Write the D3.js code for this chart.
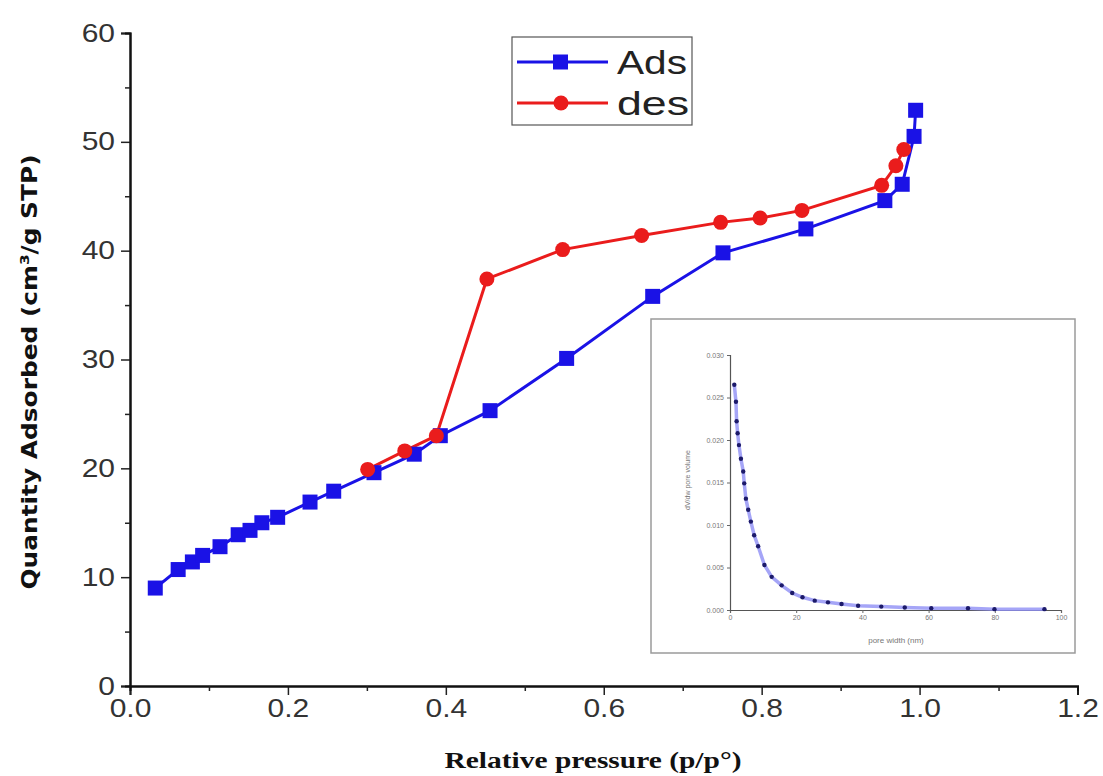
<!DOCTYPE html>
<html>
<head>
<meta charset="utf-8">
<script src="https://cdn.jsdelivr.net/npm/d3@7"></script>
<style>
  html, body { margin: 0; padding: 0; background: #fff; }
  svg { display: block; }
</style>
</head>
<body>
<svg id="chart" width="1103" height="776"></svg>
<script>
// Nitrogen isotherm: adsorption branch
const adsP = [0.032, 0.061, 0.079, 0.092, 0.114, 0.137, 0.152, 0.167, 0.187, 0.228, 0.258,
              0.309, 0.360, 0.393, 0.456, 0.553, 0.662, 0.751, 0.856, 0.956, 0.978, 0.993, 0.995];
const adsQ = [9.0, 10.7, 11.4, 12.0, 12.8, 13.9, 14.3, 15.0, 15.5, 16.9, 17.9,
              19.6, 21.3, 23.0, 25.3, 30.1, 35.8, 39.8, 42.0, 44.6, 46.1, 50.5, 52.9];
// Desorption branch
const desP = [0.301, 0.348, 0.388, 0.452, 0.548, 0.648, 0.748, 0.798, 0.851, 0.952, 0.970, 0.980];
const desQ = [19.9, 21.6, 23.0, 37.4, 40.1, 41.4, 42.6, 43.0, 43.7, 46.0, 47.8, 49.3];

const xTicks = [0.0, 0.2, 0.4, 0.6, 0.8, 1.0, 1.2];
const yTicks = [0, 10, 20, 30, 40, 50, 60];
const seriesNames = ["Ads", "des"];

// Pore size distribution (inset)
const poreW = [1.3, 1.8, 2.0, 2.3, 2.7, 3.3, 4.0, 4.3, 4.8, 5.5, 6.3, 7.3, 8.5, 10.4, 12.6,
               15.6, 18.8, 21.9, 25.6, 29.6, 33.7, 38.7, 45.7, 52.8, 60.8, 71.9, 79.9, 95.0];
const poreV = [0.0265, 0.0245, 0.0222, 0.0208, 0.0194, 0.0178, 0.0163, 0.0149, 0.0131, 0.0118,
               0.0104, 0.0088, 0.0075, 0.0053, 0.0039, 0.0029, 0.0020, 0.0015, 0.0011, 0.0009,
               0.0007, 0.0005, 0.0004, 0.0003, 0.0002, 0.0002, 0.0001, 0.0001];
const insetXTicks = [0, 20, 40, 60, 80, 100];
const insetYTicks = [0.000, 0.005, 0.010, 0.015, 0.020, 0.025, 0.030];

const BLUE = "#1a12e6";
const RED = "#ea1c1c";
const SANS = "Liberation Sans, Arial, sans-serif";

const svg = d3.select("#chart");

// widen glyphs a little so labels look like the plotting package's stretched font
function stretch(sel, factor) {
  sel.each(function () {
    const w = this.getComputedTextLength();
    d3.select(this).attr("textLength", w * factor).attr("lengthAdjust", "spacingAndGlyphs");
  });
}

// ---------- main plot ----------
const x = d3.scaleLinear().domain([0, 1.2]).range([130, 1077.5]);
const y = d3.scaleLinear().domain([0, 60]).range([686, 33]);

const gx = svg.append("g").attr("transform", "translate(0,686)")
  .call(d3.axisBottom(x).tickValues(xTicks).tickFormat(d3.format(".1f")).tickSize(9).tickPadding(3));
svg.append("g").attr("transform", "translate(0,686)")
  .call(d3.axisBottom(x).tickValues(d3.range(0.1, 1.2, 0.2)).tickFormat("").tickSize(5));
const gy = svg.append("g").attr("transform", "translate(130,0)")
  .call(d3.axisLeft(y).tickValues(yTicks).tickFormat(d3.format("d")).tickSize(9).tickPadding(6));
svg.append("g").attr("transform", "translate(130,0)")
  .call(d3.axisLeft(y).tickValues(d3.range(5, 60, 10)).tickFormat("").tickSize(5));

svg.selectAll(".domain").attr("stroke", "#111").attr("stroke-width", 2);
svg.selectAll(".tick line").attr("stroke", "#222").attr("stroke-width", 1.5);
gx.selectAll(".tick text").attr("font-family", SANS)
  .attr("font-size", 25).attr("fill", "#333").attr("dy", "0.75em").call(stretch, 1.2);
gy.selectAll(".tick text").attr("font-family", SANS)
  .attr("font-size", 25).attr("fill", "#333").call(stretch, 1.2);

// axis titles
svg.append("text").attr("x", 593).attr("y", 768).attr("text-anchor", "middle")
  .attr("font-family", "Liberation Serif, serif").attr("font-weight", "bold")
  .attr("font-size", 23).attr("fill", "#111")
  .attr("textLength", 297).attr("lengthAdjust", "spacingAndGlyphs")
  .text("Relative pressure (p/p°)");
const yt = svg.append("text").attr("transform", "translate(37,372) rotate(-90)")
  .attr("text-anchor", "middle").attr("font-family", "DejaVu Sans, sans-serif")
  .attr("font-weight", "bold").attr("font-size", 21).attr("fill", "#111")
  .attr("textLength", 435).attr("lengthAdjust", "spacingAndGlyphs");
yt.append("tspan").text("Quantity Adsorbed (cm");
yt.append("tspan").attr("dy", -8).attr("font-size", 13).text("3");
yt.append("tspan").attr("dy", 8).text("/g STP)");

const line = d3.line().x(d => x(d[0])).y(d => y(d[1]));
const ads = adsP.map((p, i) => [p, adsQ[i]]);
const des = desP.map((p, i) => [p, desQ[i]]);

svg.append("path").datum(ads).attr("d", line).attr("fill", "none")
  .attr("stroke", BLUE).attr("stroke-width", 3);
svg.append("path").datum(des).attr("d", line).attr("fill", "none")
  .attr("stroke", RED).attr("stroke-width", 3);

svg.selectAll(".ads-pt").data(ads).enter().append("rect")
  .attr("x", d => x(d[0]) - 7.5).attr("y", d => y(d[1]) - 7.5)
  .attr("width", 15).attr("height", 15).attr("fill", BLUE);
svg.selectAll(".des-pt").data(des).enter().append("circle")
  .attr("cx", d => x(d[0])).attr("cy", d => y(d[1])).attr("r", 7.5).attr("fill", RED);

// legend
const lg = svg.append("g");
lg.append("rect").attr("x", 512).attr("y", 37).attr("width", 180).attr("height", 88)
  .attr("fill", "#fff").attr("stroke", "#555").attr("stroke-width", 1.2);
[0, 1].forEach(i => {
  const cy = 62 + i * 41;
  const col = i === 0 ? BLUE : RED;
  lg.append("line").attr("x1", 517).attr("x2", 608).attr("y1", cy).attr("y2", cy)
    .attr("stroke", col).attr("stroke-width", 3);
  if (i === 0) {
    lg.append("rect").attr("x", 553).attr("y", cy - 7.5).attr("width", 15).attr("height", 15).attr("fill", col);
  } else {
    lg.append("circle").attr("cx", 561).attr("cy", cy).attr("r", 7.5).attr("fill", col);
  }
  lg.append("text").attr("x", 617).attr("y", cy + 12)
    .attr("font-family", SANS).attr("font-size", 34)
    .attr("fill", "#222").attr("textLength", i === 0 ? 70 : 72)
    .attr("lengthAdjust", "spacingAndGlyphs").text(seriesNames[i]);
});

// ---------- inset: pore size distribution ----------
const ins = svg.append("g");
ins.append("rect").attr("x", 651).attr("y", 319).attr("width", 424).attr("height", 334)
  .attr("fill", "#fff").attr("stroke", "#9a9a9a").attr("stroke-width", 1.5);

const ix = d3.scaleLinear().domain([0, 100]).range([730, 1061]);
const iy = d3.scaleLinear().domain([0, 0.030]).range([610, 355]);

ins.append("g").attr("transform", "translate(0,610)")
  .call(d3.axisBottom(ix).tickValues(insetXTicks).tickSize(3).tickPadding(2));
ins.append("g").attr("transform", "translate(730,0)")
  .call(d3.axisLeft(iy).tickValues(insetYTicks).tickFormat(d3.format(".3f")).tickSize(3).tickPadding(3));
ins.selectAll(".domain").attr("stroke", "#555").attr("stroke-width", 1.2);
ins.selectAll(".tick line").attr("stroke", "#666");
ins.selectAll(".tick text").attr("font-family", SANS)
  .attr("font-size", 7).attr("fill", "#777");

ins.append("text").attr("x", 896).attr("y", 643).attr("text-anchor", "middle")
  .attr("font-family", SANS).attr("font-size", 8)
  .attr("fill", "#777").text("pore width (nm)");
ins.append("text").attr("transform", "translate(690,480) rotate(-90)").attr("text-anchor", "middle")
  .attr("font-family", SANS).attr("font-size", 7)
  .attr("fill", "#777").text("dV/dw pore volume");

const psd = poreW.map((w, i) => [w, poreV[i]]);
const iline = d3.line().x(d => ix(d[0])).y(d => iy(d[1]));
ins.append("path").datum(psd).attr("d", iline).attr("fill", "none")
  .attr("stroke", "#8f8ff5").attr("stroke-width", 3.5).attr("opacity", 0.8);
ins.selectAll(".psd-pt").data(psd).enter().append("circle")
  .attr("cx", d => ix(d[0])).attr("cy", d => iy(d[1])).attr("r", 2.2).attr("fill", "#1c1a6a");
</script>
</body>
</html>
